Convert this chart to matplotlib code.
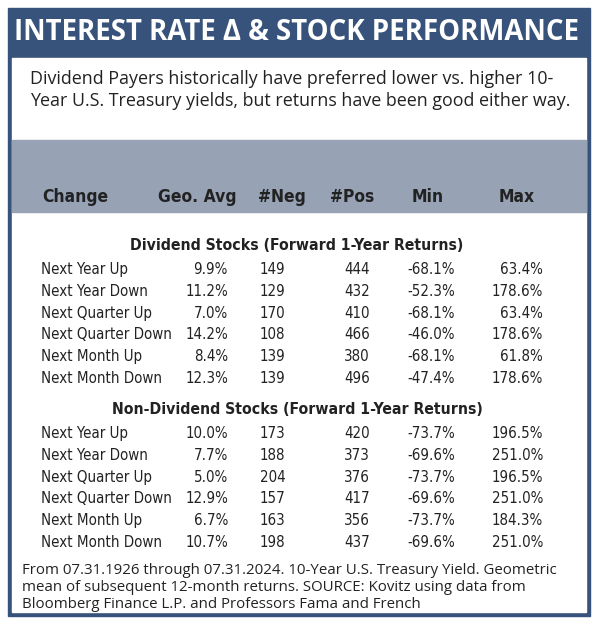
import matplotlib.pyplot as plt
from matplotlib.patches import Rectangle
from matplotlib import font_manager as fm

# table data
changes = ['Next Year Up', 'Next Year Down', 'Next Quarter Up',
           'Next Quarter Down', 'Next Month Up', 'Next Month Down']

div_geo = [9.9, 11.2, 7.0, 14.2, 8.4, 12.3]
div_neg = [149, 129, 170, 108, 139, 139]
div_pos = [444, 432, 410, 466, 380, 496]
div_min = [-68.1, -52.3, -68.1, -46.0, -68.1, -47.4]
div_max = [63.4, 178.6, 63.4, 178.6, 61.8, 178.6]

non_geo = [10.0, 7.7, 5.0, 12.9, 6.7, 10.7]
non_neg = [173, 188, 204, 157, 163, 198]
non_pos = [420, 373, 376, 417, 356, 437]
non_min = [-73.7, -69.6, -73.7, -69.6, -73.7, -69.6]
non_max = [196.5, 251.0, 196.5, 251.0, 184.3, 251.0]

headers = ['Change', 'Geo. Avg', '#Neg', '#Pos', 'Min', 'Max']

title = 'INTEREST RATE Δ & STOCK PERFORMANCE'
subtitle = ['Dividend Payers historically have preferred lower vs. higher 10-',
            'Year U.S. Treasury yields, but returns have been good either way.']
footer = ['From 07.31.1926 through 07.31.2024. 10-Year U.S. Treasury Yield. Geometric',
          'mean of subsequent 12-month returns. SOURCE: Kovitz using data from',
          'Bloomberg Finance L.P. and Professors Fama and French']

navy = '#37537B'
band = '#97A3B5'
ink = '#222222'

# condensed face if the system has one, else Roboto
cond_path = fm.findfont(fm.FontProperties(family='DejaVu Sans', stretch='condensed'))
if 'ondensed' in cond_path:
    tab = dict(family='DejaVu Sans', fontstretch='condensed')
    row_size, head_size, sec_size = 10.8, 12.5, 11.3
else:
    tab = dict(family=['Roboto', 'DejaVu Sans'])
    row_size, head_size, sec_size = 10.8, 12.5, 11

fig = plt.figure(figsize=(5.98, 6.23), dpi=100)
ax = fig.add_axes([0, 0, 1, 1])
ax.set_xlim(0, 598)
ax.set_ylim(623, 0)
ax.axis('off')

# frame and bands
ax.add_patch(Rectangle((8, 8), 582, 608, color=navy))
ax.add_patch(Rectangle((12, 58), 574, 554, color='white'))
ax.add_patch(Rectangle((12, 140), 574, 72, color=band))

ax.text(297, 32, title, color='white', fontsize=19.9, fontweight='bold',
        family=['Open Sans', 'DejaVu Sans'], ha='center', va='center')
for i, line in enumerate(subtitle):
    ax.text(30, 79 + i * 22, line, color=ink, fontsize=12.85,
            family=['Open Sans', 'DejaVu Sans'], ha='left', va='center')

# column headers
hx = [75, 197, 282, 352, 428, 517]
for x, h in zip(hx, headers):
    ax.text(x, 197, h, color=ink, fontsize=head_size, fontweight='bold',
            ha='center', va='center', **tab)


def section(y0, name, geo, neg, pos, mn, mx):
    ax.text(297, y0, name, color=ink, fontsize=sec_size, fontweight='bold',
            ha='center', va='center', **tab)
    for i in range(len(changes)):
        y = y0 + 23.5 + i * 21.8
        kw = dict(color=ink, fontsize=row_size, va='center', **tab)
        ax.text(41, y, changes[i], ha='left', **kw)
        ax.text(228, y, f'{geo[i]:.1f}%', ha='right', **kw)
        ax.text(260, y, f'{neg[i]}', ha='left', **kw)
        ax.text(370, y, f'{pos[i]}', ha='right', **kw)
        ax.text(455, y, f'{mn[i]:.1f}%', ha='right', **kw)
        ax.text(543, y, f'{mx[i]:.1f}%', ha='right', **kw)


section(246, 'Dividend Stocks (Forward 1-Year Returns)',
        div_geo, div_neg, div_pos, div_min, div_max)
section(410, 'Non-Dividend Stocks (Forward 1-Year Returns)',
        non_geo, non_neg, non_pos, non_min, non_max)

for i, line in enumerate(footer):
    ax.text(22, 571 + i * 16.5, line, color=ink, fontsize=10.85,
            family=['Open Sans', 'DejaVu Sans'], ha='left', va='center')

fig.savefig('out.png', dpi=100)
